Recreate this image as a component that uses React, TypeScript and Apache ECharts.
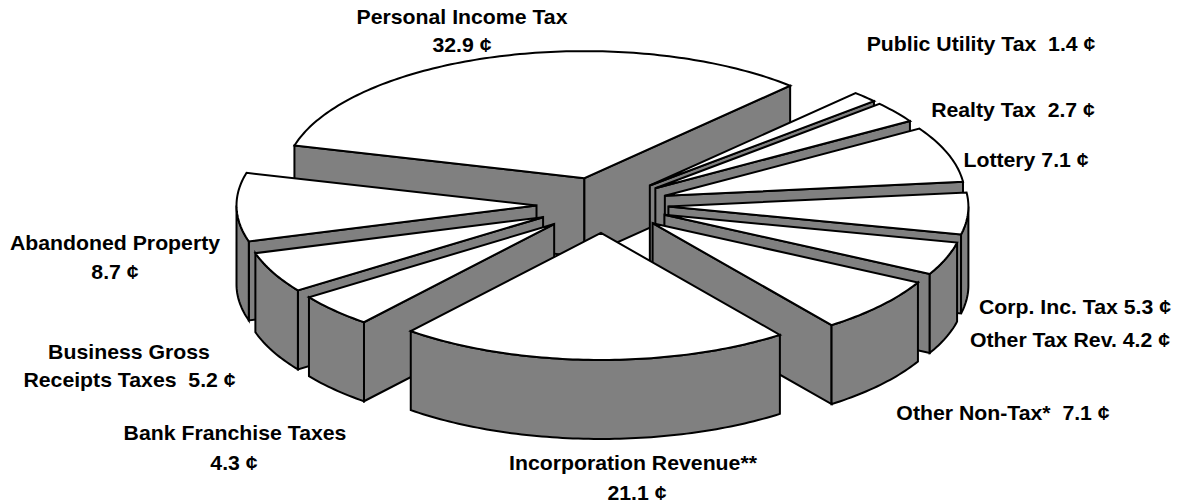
import React, { useEffect, useRef } from "react";
import * as echarts from "echarts";

const categories = [
  "Public Utility Tax",
  "Realty Tax",
  "Lottery",
  "Corp. Inc. Tax",
  "Other Tax Rev.",
  "Other Non-Tax*",
  "Incorporation Revenue**",
  "Bank Franchise Taxes",
  "Business Gross Receipts Taxes",
  "Abandoned Property",
  "Personal Income Tax",
];
const values = [1.4, 2.7, 7.1, 5.3, 4.2, 7.1, 21.1, 4.3, 5.2, 8.7, 32.9];

const START_DEG = 43.3;
const CX = 602.5;
const CY = 205;
const RX = 300;
const RY = 127;
const DEPTH = 79;
const EXPLODE = 0.22;
const SIDE = "#808080";
const TOP = "#ffffff";
const LINE = "#000000";
const LW = 2;
const FONT = 'bold 20px "Liberation Sans", Arial, sans-serif';
const TEXT_STRETCH = 1.063;

const fmt = (i: number) => `${values[i].toFixed(1)} ¢`;

const labelLayout: { text: string; x: number; y: number }[] = [
  { text: categories[10], x: 462, y: 17 },
  { text: fmt(10), x: 462, y: 45 },
  { text: `${categories[0]}  ${fmt(0)}`, x: 981, y: 44 },
  { text: `${categories[1]}  ${fmt(1)}`, x: 1013, y: 110 },
  { text: `${categories[2]} ${fmt(2)}`, x: 1026, y: 160 },
  { text: `${categories[3]} ${fmt(3)}`, x: 1075, y: 307 },
  { text: `${categories[4]} ${fmt(4)}`, x: 1070, y: 340 },
  { text: `${categories[5]}  ${fmt(5)}`, x: 1003, y: 413 },
  { text: categories[6], x: 633, y: 463 },
  { text: fmt(6), x: 637, y: 493 },
  { text: categories[7], x: 235, y: 433 },
  { text: fmt(7), x: 234, y: 463 },
  { text: "Business Gross", x: 129, y: 352 },
  { text: `Receipts Taxes  ${fmt(8)}`, x: 129.5, y: 380 },
  { text: categories[9], x: 115, y: 243 },
  { text: fmt(9), x: 115, y: 272 },
];

type Slice = { a0: number; a1: number; ax: number; ay: number };

function buildSlices(): Slice[] {
  const total = values.reduce((s, v) => s + v, 0);
  let cur = START_DEG;
  const out: Slice[] = values.map((v) => {
    const a0 = cur;
    const a1 = cur + (v / total) * 360;
    cur = a1;
    const mid = (((a0 + a1) / 2) * Math.PI) / 180;
    return {
      a0,
      a1,
      ax: CX + Math.sin(mid) * RX * EXPLODE,
      ay: CY - Math.cos(mid) * RY * EXPLODE,
    };
  });
  return out.sort((p, q) => p.ay - q.ay);
}

const slices = buildSlices();

function arc(s: Slice, from: number, to: number, dy: number): number[][] {
  const n = Math.max(2, Math.ceil(Math.abs(to - from)));
  const pts: number[][] = [];
  for (let i = 0; i <= n; i++) {
    const t = ((from + ((to - from) * i) / n) * Math.PI) / 180;
    pts.push([s.ax + Math.sin(t) * RX, s.ay - Math.cos(t) * RY + dy]);
  }
  return pts;
}

function poly(points: number[][], fill: string) {
  return {
    type: "polygon",
    shape: { points },
    style: { fill, stroke: LINE, lineWidth: LW, lineJoin: "miter" },
    silent: true,
  };
}

function renderSlice(params: any) {
  const s = slices[params.dataIndex];
  const children: any[] = [];
  const rad = (d: number) => (d * Math.PI) / 180;
  const radial = (deg: number) => {
    const p = arc(s, deg, deg, 0)[0];
    children.push(
      poly(
        [
          [s.ax, s.ay],
          p,
          [p[0], p[1] + DEPTH],
          [s.ax, s.ay + DEPTH],
        ],
        SIDE
      )
    );
  };
  if (Math.sin(rad(s.a0)) < 0) radial(s.a0);
  if (Math.sin(rad(s.a1)) > 0) radial(s.a1);
  const w0 = Math.max(s.a0, 90);
  const w1 = Math.min(s.a1, 270);
  if (w1 > w0) {
    const top = arc(s, w0, w1, 0);
    const bottom = arc(s, w1, w0, DEPTH);
    children.push(poly([...top, ...bottom], SIDE));
  }
  children.push(poly([[s.ax, s.ay], ...arc(s, s.a0, s.a1, 0)], TOP));
  return { type: "group", children };
}

export default function App() {
  const ref = useRef<HTMLDivElement>(null);
  useEffect(() => {
    document.body.style.margin = "0";
    document.body.style.background = "#fff";
    const chart = echarts.init(ref.current!, undefined, { renderer: "svg" });
    chart.setOption({
      animation: false,
      backgroundColor: "#ffffff",
      series: [
        {
          type: "custom",
          coordinateSystem: "none",
          silent: true,
          data: slices.map((s) => [s.a1 - s.a0]),
          renderItem: renderSlice,
        },
      ],
      graphic: labelLayout.map((l) => ({
        type: "text",
        x: l.x,
        y: l.y,
        scaleX: TEXT_STRETCH,
        z: 100,
        silent: true,
        style: {
          text: l.text,
          font: FONT,
          fill: "#000",
          textAlign: "center",
          textVerticalAlign: "middle",
        },
      })),
    });
    return () => chart.dispose();
  }, []);
  return <div ref={ref} style={{ width: 1180, height: 504 }} />;
}
